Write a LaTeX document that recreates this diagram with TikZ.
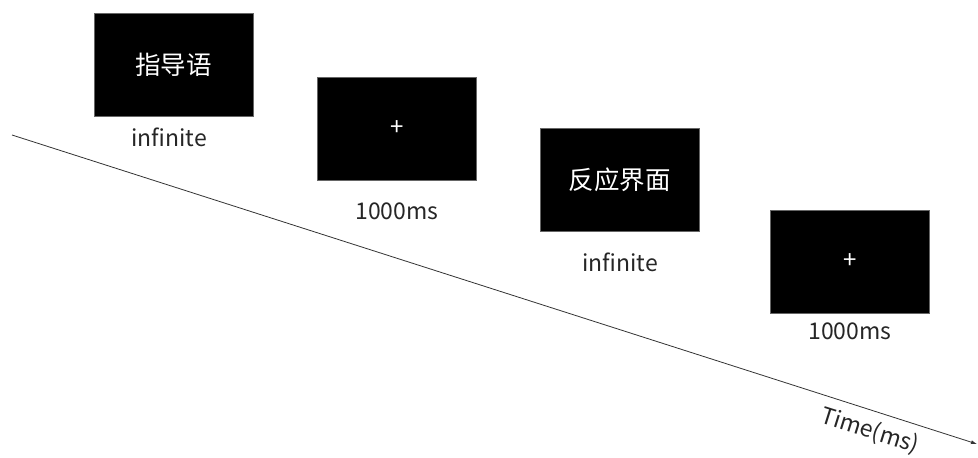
\documentclass[tikz,border=0pt]{standalone}
\usepackage{fontspec}
\setmainfont{Noto Sans CJK SC}
\usetikzlibrary{arrows.meta}
\begin{document}
\begin{tikzpicture}[x=1pt,y=-1pt,
  screen/.style={fill=black,draw=black!60,line width=0.6pt,minimum width=159pt,minimum height=103pt,inner sep=0pt,text=white,font=\fontsize{25.5}{28}\selectfont},
  plus/.style={font=\fontsize{26}{28}\selectfont\addfontfeatures{}},
  lab/.style={font=\fontsize{23}{26}\selectfont,text=black!85}]
\useasboundingbox (0,0) rectangle (978,458);
\node[screen] (s1) at (173.5,65) {指导语};
\node[screen] (s2) at (397,128.5) {\fontsize{24}{26}\selectfont\raisebox{1pt}{+}};
\node[screen] (s3) at (619.5,179.5) {反应界面};
\node[screen] (s4) at (850,261.5) {\fontsize{24}{26}\selectfont\raisebox{1pt}{+}};
\node[lab] (l1) at (169,137) {infinite};
\node[lab] (l2) at (397,211) {1000ms};
\node[lab] (l3) at (620,262) {infinite};
\node[lab] (l4) at (850,331) {1000ms};
\coordinate (a) at (12,135);
\coordinate (b) at (977,444);
\draw[line width=0.8pt,black!80,-{Latex[length=6pt,width=4pt]}] (a) -- (b);
\node[lab,rotate=-17.5] (t) at (870,431) {Time(ms)};
\end{tikzpicture}
\end{document}
